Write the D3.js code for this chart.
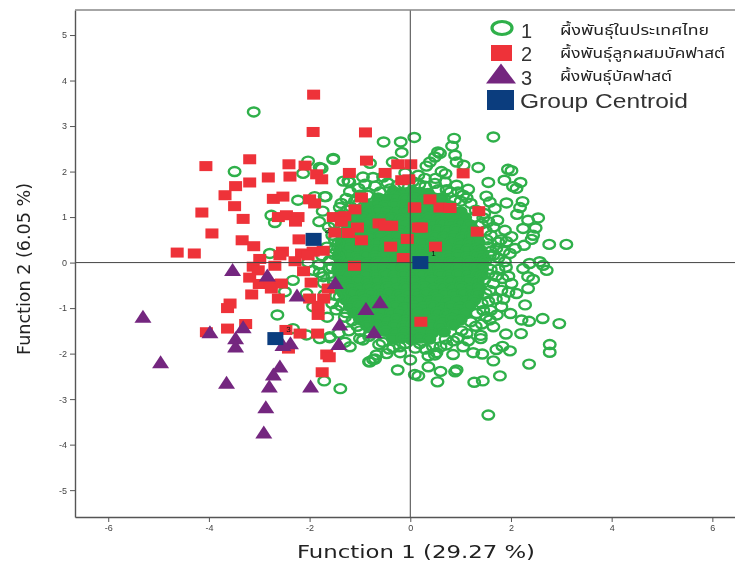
<!DOCTYPE html>
<html>
<head>
<meta charset="utf-8">
<script src="https://cdn.jsdelivr.net/npm/d3@7"></script>
<style>
  html, body { margin: 0; padding: 0; background: #fff; }
  svg { display: block; filter: blur(0.35px); }
</style>
</head>
<body>
<div id="chart"></div>
<script>
/* discriminant scores as [function 1, function 2] */

// group 1, outer rings that can be told apart
const group1Rim = [
  [1.65,2.76],[.87,2.73],[.83,2.56],[.08,2.75],[-.19,2.65],[-.53,2.65],[-.17,2.42],[-1.53,2.29],[-.8,2.18],[-.35,2.21],
  [.55,2.43],[.49,2.32],[.59,2.4],[.39,2.21],[.32,2.12],[.89,2.36],[.92,2.21],[1.06,2.14],[1.35,2.09],[.62,2],
  [1.94,2.05],[2.01,2.02],[1.87,1.81],[1.55,1.76],[2.19,1.76],[2.04,1.67],[2.11,1.63],[.92,1.7],[.69,1.77],[1.15,1.61],
  [1.05,1.48],[.89,1.37],[1.51,1.46],[1.58,1.33],[1.91,1.31],[1.68,1.19],[2.23,1.34],[2.18,1.21],[2.12,1.06],[2.34,.93],
  [2.54,.98],[1.73,.93],[2.24,.75],[2.49,.76],[2.44,.6],[1.88,.71],[2.01,.57],[1.91,.46],[2.41,.51],[2.26,.38],
  [2.76,.4],[3.1,.4],[1.71,.31],[1.65,.16],[1.98,.2],[2.08,.31],[2.57,.02],[2.71,-.17],[2.64,-.06],[2.37,-.02],
  [2.24,-.13],[1.88,.02],[2.34,-.31],[2.44,-.37],[2.01,-.46],[1.83,-.35],[2.34,-.57],[2.11,-.68],[1.65,-.46],[1.58,-.61],
  [1.81,-.61],[-1.76,2.07],[-1.33,1.79],[-1.21,1.77],[-.94,1.88],[-.74,1.87],[-.54,1.88],[-1.7,1.45],[-1.37,1.3],[-1.4,1.21],
  [.29,1.85],[.49,1.74],[.16,1.92],[-3.11,3.31],[-3.49,2],[-2.03,2.23],[-1.8,2.09],[-2.13,1.96],[-1.53,2.27],[-2.23,1.37],
  [-1.9,1.45],[-1.68,1.45],[-1.74,1.13],[-2.76,1.04],[-2.69,.88],[-1.81,.9],[-1.23,1.79],[-1.2,1.56],[-1.03,1.63],[-1,1.48],
  [-1.27,1.41],[-2.79,.2],[-1.43,.42],[-1.4,.2],[-1.43,.13],[-2.03,0],[-1.93,-.17],[-1.8,-.22],[-1.6,-.13],[-1.43,-.17],
  [-1.73,-.31],[-2.33,-.39],[-2.49,-.64],[-2.64,-1.15],[-2.06,-.68],[-1.93,-.97],[-2.33,-1.45],[-2.06,-1.59],[-1.8,-1.67],[-1.6,-1.65],
  [-1.4,-.75],[-1.47,-1.04],[-1.2,-1.85],[-1,-1.67],[-.8,-2.18],[-.7,-2.12],[-.47,-2],[-.34,-1.87],[0,-2.14],[-.25,-2.36],
  [.09,-2.46],[-1.71,-2.6],[-1.39,-2.77],[1.55,-3.35],[1.78,-2.49],[1.44,-2.6],[1.27,-2.63],[2.36,-2.23],[2.77,-1.97],[2.77,-1.8],
  [2.96,-1.34],[2.63,-1.23],[2.36,-1.29],[2.21,-1.26],[2.2,-1.56],[1.9,-1.57],[1.99,-1.12],[2.28,-.93],[1.98,-1.94],[1.83,-1.84],
  [1.71,-1.91],[1.65,-2.16],[1.43,-2.01],[1.25,-1.98],[1.05,-1.85],[.85,-2.02],[1.4,-1.67],[1.4,-1.6],[1.65,-1.41],[1.51,-1.19],
  [1.58,-1.26],[1.81,-.97],[.52,-1.98],[.36,-2.05],[.49,-2.03],[.36,-2.29],[.6,-2.39],[.92,-2.36],[.89,-2.4],[.54,-2.62],
  [.16,-2.49],[-.21,-1.85],[.19,-1.78],[.72,-1.81],[1.12,-1.56],[-.67,-2.03],[-.74,-2.13],[-.82,-2.18],[-.94,-1.7],[-1.6,-1.63],
  [-1.55,.6],[-1.5,.3],[-1.6,.05],[-1.55,-.3],[-1.5,-.55],[-1.55,-.9],[-1.3,.9],[-1.62,.78],[-1.66,.34],[-1.22,-1.5],
  [1.55,.9],[1.6,.6],[1.55,.35],[1.5,.05],[1.6,-.15],[1.7,-.3],[1.55,-.85],[1.6,-1.05],[1.7,-.8],[1.75,.1],[1.8,.5],[1.47,1.08],[1.47,-.38],[1.42,-1.35],[.7,1.95],[-.1,1.97],
  [-.9,1.72],[-.7,1.68],[-.45,1.75],[-.25,1.7],[.05,1.78],[.3,1.68],[.55,1.6],[.8,1.55],[1,1.35],[1.2,1.3],
  [-1.1,1.35],[-1.25,1.15],[-1.38,1.05],[-1.5,.85],[1.28,1],[1.42,.85],[1.5,.7],[1.65,.78],[1.75,.45],[1.6,.25],
  [1.85,.25],[1.9,-.1],[1.75,-.15],[1.95,-.3],[1.85,-.8],[1.95,-.65],[1.72,-1.15],[1.45,-1.05],[1.3,-1.4],[1.15,-1.72],
  [.95,-1.65],[.7,-1.68],[.45,-1.85],[.1,-1.88],[-.1,-1.78],[-.55,-1.75],[-.8,-1.55],[-1.05,-1.4],[-1.3,-1.2],[-1.65,-1.2],
  [-1.7,-.7],[-1.72,-.45],[-1.82,-.05],[-1.75,.15],[-1.3,-1.75],[-1.42,-1.55],
  [-.6,1.55],[-.85,1.48],[-1.02,1.3],[-1.18,1.22],[-1.3,.98],[-1.42,.72],[-1.5,.5],[-1.52,.18],[-1.55,-.1],[-1.52,-.42],
  [-1.48,-.72],[-1.38,-.95],[-1.28,-1.1],[-1.15,-1.28],[-1,-1.5],[-.82,-1.62],[-.62,-1.8],[-.42,-1.9],[-.2,-1.98],[.3,-1.9],
  [.6,-1.85],[.85,-1.72],[1.02,-1.5],[1.2,-1.3],[1.32,-1.12],[1.42,-.9],[1.5,-.68],[1.55,-.25],[1.58,.15],[1.52,.5],
  [1.45,.98],[1.3,1.15],[1.12,1.42],[.95,1.55],[.72,1.6],[.5,1.85],[.18,1.72],[-.12,1.72],[-.4,1.62]
];

// group 1, the solid middle of the cloud where rings overlap
const group1Core = [
  [-.33,1.56],[-.14,1.53],[.04,1.57],[.2,1.54],[.35,1.52],
  [-.64,1.42],[-.47,1.39],[-.28,1.43],[-.1,1.4],[.08,1.42],[.27,1.38],[.45,1.41],[.63,1.4],
  [-.85,1.26],[-.67,1.29],[-.5,1.25],[-.31,1.28],[-.13,1.26],[.05,1.29],[.23,1.25],[.41,1.27],[.6,1.29],[.78,1.25],
  [-1,1.13],[-.82,1.11],[-.64,1.15],[-.46,1.12],[-.27,1.1],[-.09,1.14],[.09,1.11],[.28,1.15],[.46,1.12],[.64,1.1],[.82,1.14],[1,1.12],
  [-1.1,.98],[-.93,1],[-.74,.97],[-.56,1.01],[-.37,.98],[-.19,.96],[0,1],[.18,.97],[.36,.99],[.55,.96],[.73,1],[.91,.98],[1.09,.99],
  [-1.2,.85],[-1.02,.83],[-.84,.87],[-.65,.84],[-.47,.86],[-.28,.83],[-.1,.87],[.09,.84],[.27,.86],[.45,.83],[.64,.87],[.82,.84],[1,.86],[1.18,.83],
  [-1.26,.7],[-1.09,.73],[-.9,.69],[-.73,.72],[-.54,.7],[-.36,.73],[-.18,.69],[.01,.71],[.18,.74],[.37,.69],[.55,.72],[.73,.7],[.91,.73],[1.09,.69],[1.26,.71],
  [-1.33,.57],[-1.15,.55],[-.97,.59],[-.79,.56],[-.6,.58],[-.42,.55],[-.24,.59],[-.06,.56],[.12,.58],[.3,.55],[.49,.59],[.67,.56],[.85,.58],[1.03,.55],[1.21,.59],[1.33,.56],
  [-1.37,.42],[-1.2,.45],[-1.02,.41],[-.84,.44],[-.65,.42],[-.47,.45],[-.29,.41],[-.1,.43],[.08,.45],[.26,.41],[.44,.44],[.62,.42],[.81,.45],[.99,.41],[1.17,.43],[1.36,.44],
  [-1.4,.28],[-1.22,.31],[-1.04,.27],[-.86,.3],[-.68,.28],[-.5,.31],[-.31,.27],[-.13,.29],[.05,.31],[.23,.27],[.41,.3],[.6,.28],[.78,.31],[.96,.27],[1.14,.29],[1.32,.31],[1.4,.27],
  [-1.42,.14],[-1.24,.16],[-1.06,.13],[-.88,.17],[-.7,.14],[-.51,.16],[-.33,.13],[-.15,.17],[.03,.14],[.22,.16],[.4,.13],[.58,.17],[.76,.14],[.95,.16],[1.13,.13],[1.31,.17],[1.42,.14],
  [-1.38,.01],[-1.2,-.01],[-1.02,.03],[-.84,0],[-.65,.02],[-.47,-.01],[-.29,.03],[-.11,0],[.07,.02],[.26,-.01],[.44,.03],[.62,0],[.8,.02],[.98,-.01],[1.17,.03],[1.35,0],[1.44,.02],
  [-1.43,-.13],[-1.25,-.11],[-1.07,-.15],[-.89,-.12],[-.7,-.14],[-.52,-.11],[-.34,-.15],[-.16,-.12],[.03,-.14],[.21,-.11],[.39,-.15],[.57,-.12],[.75,-.14],[.94,-.11],[1.12,-.15],[1.3,-.12],[1.43,-.14],
  [-1.41,-.27],[-1.23,-.25],[-1.04,-.29],[-.86,-.26],[-.68,-.28],[-.5,-.25],[-.32,-.29],[-.13,-.26],[.05,-.28],[.23,-.25],[.42,-.29],[.6,-.26],[.78,-.28],[.96,-.25],[1.15,-.29],[1.33,-.26],[1.42,-.28],
  [-1.4,-.41],[-1.22,-.43],[-1.03,-.39],[-.85,-.42],[-.67,-.4],[-.48,-.43],[-.3,-.39],[-.12,-.42],[.06,-.4],[.25,-.43],[.43,-.39],[.61,-.42],[.79,-.4],[.98,-.43],[1.16,-.39],[1.34,-.42],
  [-1.37,-.55],[-1.18,-.53],[-1,-.57],[-.82,-.54],[-.64,-.56],[-.45,-.53],[-.27,-.57],[-.09,-.54],[.1,-.56],[.28,-.53],[.46,-.57],[.64,-.54],[.83,-.56],[1.01,-.53],[1.19,-.57],[1.37,-.54],
  [-1.32,-.69],[-1.14,-.67],[-.96,-.71],[-.78,-.68],[-.59,-.7],[-.41,-.67],[-.23,-.71],[-.04,-.68],[.14,-.7],[.32,-.67],[.5,-.71],[.69,-.68],[.87,-.7],[1.05,-.67],[1.23,-.71],[1.34,-.68],
  [-1.27,-.83],[-1.09,-.85],[-.9,-.81],[-.72,-.84],[-.54,-.82],[-.35,-.85],[-.17,-.81],[.01,-.84],[.2,-.82],[.38,-.85],[.56,-.81],[.74,-.84],[.93,-.82],[1.11,-.85],[1.27,-.83],
  [-1.2,-.97],[-1.02,-.95],[-.83,-.99],[-.65,-.96],[-.47,-.98],[-.29,-.95],[-.1,-.99],[.08,-.96],[.26,-.98],[.45,-.95],[.63,-.99],[.81,-.96],[.99,-.98],[1.18,-.95],
  [-1.11,-1.11],[-.93,-1.09],[-.75,-1.13],[-.56,-1.1],[-.38,-1.12],[-.2,-1.09],[-.01,-1.13],[.17,-1.1],[.35,-1.12],[.54,-1.09],[.72,-1.13],[.9,-1.1],[1.09,-1.12],
  [-1,-1.25],[-.82,-1.27],[-.64,-1.23],[-.46,-1.26],[-.27,-1.24],[-.09,-1.27],[.09,-1.23],[.28,-1.26],[.46,-1.24],[.64,-1.27],[.83,-1.23],[1,-1.26],
  [-.86,-1.39],[-.68,-1.37],[-.5,-1.41],[-.31,-1.38],[-.13,-1.4],[.05,-1.37],[.23,-1.41],[.42,-1.38],[.6,-1.4],[.86,-1.37],
  [-.67,-1.53],[-.49,-1.51],[-.3,-1.55],[-.12,-1.52],[.06,-1.54],[.25,-1.51],[.43,-1.55],[.67,-1.52],
  [-.35,-1.67],[-.16,-1.65],[.02,-1.69],[.2,-1.66],[.38,-1.68]
];

// group 2
const group2 = [
  [-1.92,3.69],[-1.93,2.87],[-.89,2.86],[-.87,2.24],[-3.19,2.27],[-4.06,2.12],[-2.41,2.16],[-2.09,2.13],[-1.86,1.94],[-1.76,1.83],
  [-2.39,1.89],[-2.82,1.87],[-3.19,1.76],[-3.47,1.68],[-1.21,1.97],[-.5,1.97],[-.25,2.16],[.01,2.16],[-.17,1.81],[-.03,1.83],
  [-3.68,1.48],[-3.49,1.24],[-4.14,1.1],[-3.32,.96],[-3.94,.64],[-2.72,1.4],[-2.53,1.45],[-2,1.39],[-1.9,1.3],[-.97,1.43],
  [-1.1,1.17],[.08,1.21],[-2.62,1],[-2.46,1.04],[-2.23,1],[-2.28,.9],[-1.53,1],[-1.3,1.02],[-1.37,.9],[-1.05,.77],
  [-.62,.86],[-.5,.81],[-.37,.81],[-1.5,.66],[-1.23,.65],[-.97,.49],[-3.34,.49],[-3.11,.36],[-2.21,.51],[-.39,.35],
  [-.06,.52],[-.14,.1],[-4.63,.22],[-4.29,.2],[-2.54,.24],[-2.59,.16],[-2.99,.08],[-2.16,.2],[-1.93,.24],[-1.73,.26],
  [-2.03,.16],[-2.29,.03],[-2.69,-.07],[-3.12,-.09],[-3.02,-.17],[-2.12,-.19],[-1.11,-.07],[.16,.77],[1.05,1.96],[.09,1.21],
  [.39,1.39],[.59,1.21],[.79,1.2],[1.36,1.13],[1.33,.68],[.22,.77],[.5,.35],[-3.19,-.33],[-1.97,-.44],[-3,-.47],
  [-2.79,-.47],[-2.56,-.46],[-2.76,-.57],[-1.63,-.57],[-3.15,-.7],[-2.62,-.79],[-2,-.79],[-1.72,-.79],[-1.83,-.95],[-1.83,-1.15],
  [-3.58,-.9],[-3.63,-1],[-3.27,-1.35],[-3.63,-1.45],[-4.05,-1.53],[-2.47,-1.48],[-2.19,-1.56],[-1.84,-1.56],[-2.42,-1.89],[-1.66,-2.02],
  [-1.61,-2.08],[-1.75,-2.41],[.21,-1.3]
];

// group 3
const group3 = [
  [-3.53,-.15],[-2.84,-.27],[-1.49,-.44],[-2.25,-.71],[-.6,-.86],[-.88,-1.01],[-5.31,-1.18],[-1.4,-1.35],[-3.32,-1.41],[-3.98,-1.52],
  [-.72,-1.52],[-3.47,-1.65],[-3.47,-1.83],[-2.38,-1.76],[-2.53,-1.8],[-1.42,-1.78],[-4.96,-2.18],[-2.59,-2.27],[-2.72,-2.45],[-3.65,-2.63],
  [-2.8,-2.71],[-1.98,-2.71],[-2.87,-3.17],[-2.91,-3.72]
];

const centroids = [[.2,0],[-1.92,.51],[-2.68,-1.67]];
const centroidLabels = ["1", "2", "3"];

const xTicks = [-6, -4, -2, 0, 2, 4, 6];
const yTicks = [-5, -4, -3, -2, -1, 0, 1, 2, 3, 4, 5];
const legendNames = ["ผึ้งพันธุ์ในประเทศไทย", "ผึ้งพันธุ์ลูกผสมบัคฟาสต์", "ผึ้งพันธุ์บัคฟาสต์"];

const GREEN = "#2fb04a", RED = "#ee3239", PURPLE = "#74267f", NAVY = "#0b3d7e", INK = "#333";
const W = 735, H = 563;
const plot = { left: 75, right: 735, top: 10, bottom: 517 };

const svg = d3.select("#chart").append("svg").attr("width", W).attr("height", H);
const x = d3.scaleLinear().domain([-6.66, 6.45]).range([plot.left, plot.right]);
const y = d3.scaleLinear().domain([5.55, -5.59]).range([plot.top, plot.bottom]);

/* ---- points ---- */
// overlapping rings saturate in the middle, so the core rings are filled in
svg.append("g").selectAll("ellipse").data(group1Core).join("ellipse")
  .attr("cx", (d) => x(d[0])).attr("cy", (d) => y(d[1]))
  .attr("rx", 5.8).attr("ry", 4.5)
  .attr("fill", GREEN).attr("stroke", GREEN).attr("stroke-width", 2.4);
svg.append("g").selectAll("ellipse").data(group1Rim).join("ellipse")
  .attr("cx", (d) => x(d[0])).attr("cy", (d) => y(d[1]))
  .attr("rx", 5.8).attr("ry", 4.5)
  .attr("fill", "none").attr("stroke", GREEN).attr("stroke-width", 2.4);

svg.append("g").selectAll("rect").data(group2).join("rect")
  .attr("x", (d) => x(d[0]) - 6.5).attr("y", (d) => y(d[1]) - 5)
  .attr("width", 13).attr("height", 10).attr("fill", RED);

const triangle = (cx, cy, w, h) => `M${cx - w / 2},${cy + h / 2}L${cx},${cy - h / 2}L${cx + w / 2},${cy + h / 2}Z`;
svg.append("g").selectAll("path").data(group3).join("path")
  .attr("d", (d) => triangle(x(d[0]), y(d[1]), 17, 13)).attr("fill", PURPLE);

/* ---- reference lines at zero ---- */
svg.append("line").attr("x1", plot.left).attr("x2", plot.right).attr("y1", y(0)).attr("y2", y(0))
  .attr("stroke", "#444").attr("stroke-width", 1);
svg.append("line").attr("x1", x(0)).attr("x2", x(0)).attr("y1", plot.top).attr("y2", plot.bottom)
  .attr("stroke", "#444").attr("stroke-width", 1);

/* ---- centroids ---- */
svg.append("g").selectAll("rect").data(centroids).join("rect")
  .attr("x", (d) => x(d[0]) - 8).attr("y", (d) => y(d[1]) - 6.5)
  .attr("width", 16).attr("height", 13).attr("fill", NAVY);
svg.append("g").selectAll("text").data(centroids).join("text")
  .attr("x", (d) => x(d[0]) + 11)
  .attr("y", (d) => y(d[1]) - 6.5)
  .attr("font-family", "Liberation Sans, sans-serif").attr("font-size", 8).attr("fill", "#111")
  .text((d, i) => centroidLabels[i]);

/* ---- axes ---- */
const xAxis = svg.append("g").attr("transform", `translate(0,${plot.bottom})`)
  .call(d3.axisBottom(x).tickValues(xTicks).tickSize(5).tickSizeOuter(0).tickFormat(d3.format("d")));
const yAxis = svg.append("g").attr("transform", `translate(${plot.left},0)`)
  .call(d3.axisLeft(y).tickValues(yTicks).tickSize(5).tickSizeOuter(0).tickFormat(d3.format("d")));
[xAxis, yAxis].forEach((a) => {
  a.selectAll("text").attr("font-family", "Liberation Sans, sans-serif").attr("font-size", 9).attr("fill", "#444")
    .text(function () { return this.textContent.replace("−", "-"); });
  a.selectAll("line").attr("stroke", "#555");
  a.select(".domain").attr("stroke", "#555").attr("stroke-width", 1.4);
});
svg.append("line").attr("x1", plot.left).attr("x2", plot.right).attr("y1", plot.top).attr("y2", plot.top)
  .attr("stroke", "#888").attr("stroke-width", 1.6);

/* ---- axis titles ---- */
svg.append("text").attr("x", 297).attr("y", 558)
  .attr("font-family", "DejaVu Sans, sans-serif").attr("font-size", 17).attr("fill", "#222")
  .attr("textLength", 238).attr("lengthAdjust", "spacingAndGlyphs").text("Function 1 (29.27 %)");
svg.append("text").attr("transform", "translate(30,355) rotate(-90)")
  .attr("font-family", "DejaVu Sans, sans-serif").attr("font-size", 17).attr("fill", "#222")
  .attr("textLength", 172).attr("lengthAdjust", "spacingAndGlyphs").text("Function 2 (6.05 %)");

/* ---- legend ---- */
const legend = svg.append("g");
legend.append("ellipse").attr("cx", 502).attr("cy", 28).attr("rx", 10).attr("ry", 6.5)
  .attr("fill", "none").attr("stroke", GREEN).attr("stroke-width", 3.2);
legend.append("rect").attr("x", 491).attr("y", 45).attr("width", 21).attr("height", 16).attr("fill", RED);
legend.append("path").attr("d", triangle(501, 73.5, 30, 20)).attr("fill", PURPLE);
legend.append("rect").attr("x", 487).attr("y", 90).attr("width", 27).attr("height", 20).attr("fill", NAVY);

const legendY = [38, 61, 85];
["1", "2", "3"].forEach((t, i) => {
  legend.append("text").attr("x", 521).attr("y", legendY[i])
    .attr("font-family", "Liberation Sans, sans-serif").attr("font-size", 20).attr("fill", INK).text(t);
});
legend.append("text").attr("x", 520).attr("y", 108)
  .attr("font-family", "Liberation Sans, sans-serif").attr("font-size", 20).attr("fill", INK)
  .attr("textLength", 168).attr("lengthAdjust", "spacingAndGlyphs").text("Group Centroid");

const nameY = [35, 58, 81];
const nameW = [149, 165, 112];
legendNames.forEach((t, i) => {
  legend.append("text").attr("x", 560).attr("y", nameY[i])
    .attr("font-family", "Noto Sans, Noto Sans Thai, DejaVu Sans, sans-serif").attr("font-size", 14).attr("fill", "#222")
    .attr("textLength", nameW[i]).attr("lengthAdjust", "spacingAndGlyphs").text(t);
});
</script>
</body>
</html>
